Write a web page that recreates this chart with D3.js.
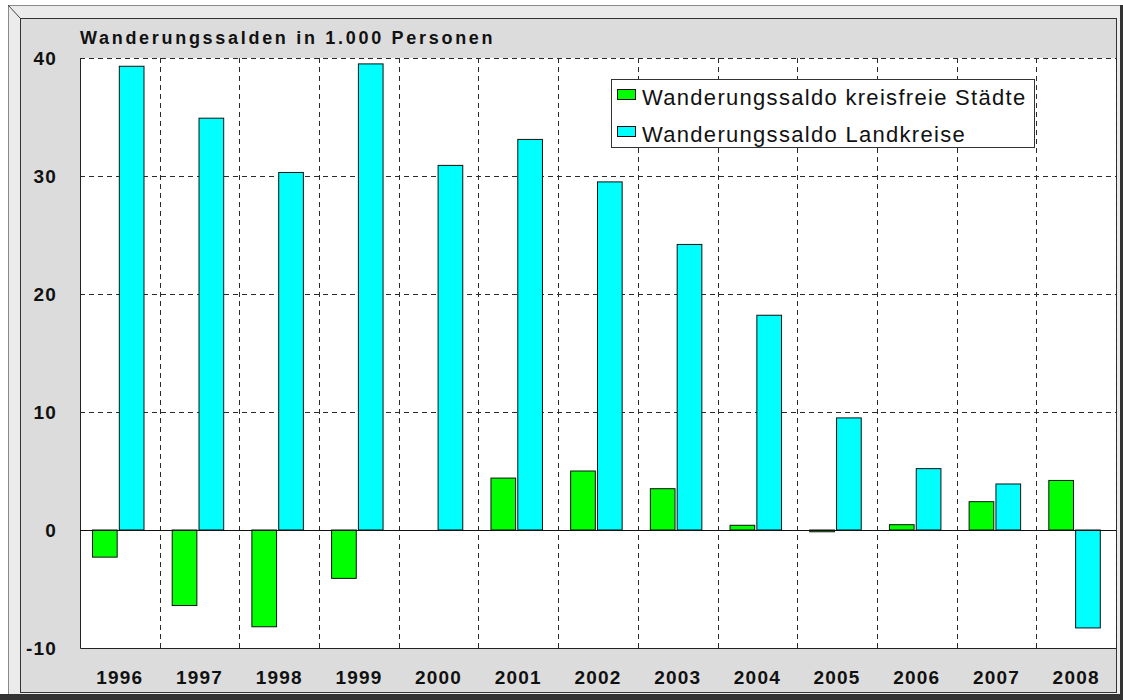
<!DOCTYPE html>
<html>
<head>
<meta charset="utf-8">
<style>
  body { margin: 0; background: #fff; }
  svg text { font-family: "Liberation Sans", Arial, sans-serif; }
  .axis text { font-size: 19px; font-weight: bold; fill: #111; letter-spacing: 1.2px; }
  .grid line { stroke: #2a2a2a; stroke-dasharray: 5,4; shape-rendering: crispEdges; }
</style>
<script src="https://cdn.jsdelivr.net/npm/d3@7"></script>
</head>
<body>
<script>
// data
var years = ["1996","1997","1998","1999","2000","2001","2002","2003","2004","2005","2006","2007","2008"];
var seriesNames = ["Wanderungssaldo kreisfreie Städte", "Wanderungssaldo Landkreise"];
var staedte   = [-2.3, -6.4, -8.2, -4.1, 0, 4.4, 5.0, 3.5, 0.4, -0.15, 0.45, 2.4, 4.2];
var landkreise = [39.3, 34.9, 30.3, 39.5, 30.9, 33.1, 29.5, 24.2, 18.2, 9.5, 5.2, 3.9, -8.3];
var yTicks = [-10, 0, 10, 20, 30, 40];
var colors = ["#00ff00", "#00ffff"];

var W = 1123, H = 700;
var plot = {left: 80, top: 58, right: 1116, bottom: 648};

var svg = d3.select("body").append("svg")
  .attr("width", W)
  .attr("height", H);

// frame
svg.append("rect").attr("x", 8.5).attr("y", 5.5).attr("width", 1112).attr("height", 694)
  .attr("fill", "#ebebeb").attr("stroke", "#8a8a8a");
svg.append("line").attr("x1", 8).attr("y1", 5).attr("x2", 20).attr("y2", 18).attr("stroke", "#444");
svg.append("rect").attr("x", 0).attr("y", 694).attr("width", W).attr("height", 6).attr("fill", "#333");
svg.append("rect").attr("x", 1120).attr("y", 5).attr("width", 3).attr("height", 695).attr("fill", "#333");
svg.append("rect").attr("x", 20.5).attr("y", 18.5).attr("width", 1096).attr("height", 674)
  .attr("fill", "#dcdcdc").attr("stroke", "#333");

// scales
var x0 = d3.scaleBand().domain(years).range([plot.left, plot.right]).padding(0);
var x1 = d3.scaleBand().domain([0, 1]).range([12.5, 64]).paddingInner(0.08);
var y = d3.scaleLinear().domain([-10, 40]).range([plot.bottom, plot.top]);

// plot background
svg.append("rect")
  .attr("x", plot.left).attr("y", plot.top)
  .attr("width", plot.right - plot.left).attr("height", plot.bottom - plot.top)
  .attr("fill", "#fff");

// grid
var grid = svg.append("g").attr("class", "grid");
grid.selectAll("line.h").data(yTicks.filter(function(d) { return d > 0; }))
  .enter().append("line").attr("class", "h")
  .attr("x1", plot.left).attr("x2", plot.right)
  .attr("y1", function(d) { return Math.round(y(d)) + 0.5; })
  .attr("y2", function(d) { return Math.round(y(d)) + 0.5; });
grid.selectAll("line.v").data(years.slice(1).concat(["end"]))
  .enter().append("line").attr("class", "v")
  .attr("x1", function(d, i) { return Math.round(i < years.length - 1 ? x0(d) : plot.right) + 0.5; })
  .attr("x2", function(d, i) { return Math.round(i < years.length - 1 ? x0(d) : plot.right) + 0.5; })
  .attr("y1", plot.top).attr("y2", plot.bottom);

// plot border left + bottom
svg.append("path")
  .attr("d", "M" + (plot.left + 0.5) + "," + plot.top + "V" + (plot.bottom + 0.5) + "H" + plot.right)
  .attr("fill", "none").attr("stroke", "#222");

// bars
var rows = years.map(function(yr, i) { return {year: yr, vals: [staedte[i], landkreise[i]]}; });
var groups = svg.selectAll("g.year").data(rows).enter().append("g")
  .attr("class", "year")
  .attr("transform", function(d) { return "translate(" + x0(d.year) + ",0)"; });
groups.selectAll("rect")
  .data(function(d) { return d.vals.map(function(v, k) { return {k: k, v: v}; }).filter(function(e) { return e.v !== 0; }); })
  .enter().append("rect")
  .attr("x", function(d) { return x1(d.k); })
  .attr("width", x1.bandwidth())
  .attr("y", function(d) { return y(Math.max(0, d.v)); })
  .attr("height", function(d) { return Math.abs(y(d.v) - y(0)); })
  .attr("fill", function(d) { return colors[d.k]; })
  .attr("stroke", "#111")
  .attr("stroke-width", 1);

// zero line
svg.append("line")
  .attr("x1", plot.left).attr("x2", plot.right)
  .attr("y1", Math.round(y(0)) + 0.5).attr("y2", Math.round(y(0)) + 0.5)
  .attr("stroke", "#111");

// y axis labels
var yAxis = svg.append("g").attr("class", "axis");
yAxis.selectAll("text").data(yTicks).enter().append("text")
  .attr("x", 57).attr("y", function(d) { return y(d); })
  .attr("dy", "0.36em")
  .attr("text-anchor", "end")
  .text(function(d) { return d; });

// x axis labels
var xAxis = svg.append("g").attr("class", "axis");
xAxis.selectAll("text").data(years).enter().append("text")
  .attr("x", function(d) { return x0(d) + x0.bandwidth() / 2; })
  .attr("y", 684)
  .attr("text-anchor", "middle")
  .text(function(d) { return d; });

// title
svg.append("text")
  .attr("x", 80).attr("y", 44)
  .attr("font-size", "18px").attr("font-weight", "bold")
  .attr("letter-spacing", "2.7px")
  .attr("fill", "#111")
  .text("Wanderungssalden in 1.000 Personen");

// legend
var legend = svg.append("g").attr("transform", "translate(611,79)");
legend.append("rect").attr("x", 0.5).attr("y", 0.5).attr("width", 423).attr("height", 68)
  .attr("fill", "#fff").attr("stroke", "#333");
var items = legend.selectAll("g.item").data(seriesNames).enter().append("g")
  .attr("class", "item")
  .attr("transform", function(d, i) { return "translate(0," + (i * 37) + ")"; });
items.append("rect").attr("x", 6.5).attr("y", 10.5).attr("width", 18).attr("height", 10)
  .attr("fill", function(d, i) { return colors[i]; })
  .attr("stroke", "#111");
items.append("text").attr("x", 31).attr("y", 26)
  .attr("font-size", "22px").attr("letter-spacing", "1.3px").attr("fill", "#111")
  .text(function(d) { return d; });
</script>
</body>
</html>
